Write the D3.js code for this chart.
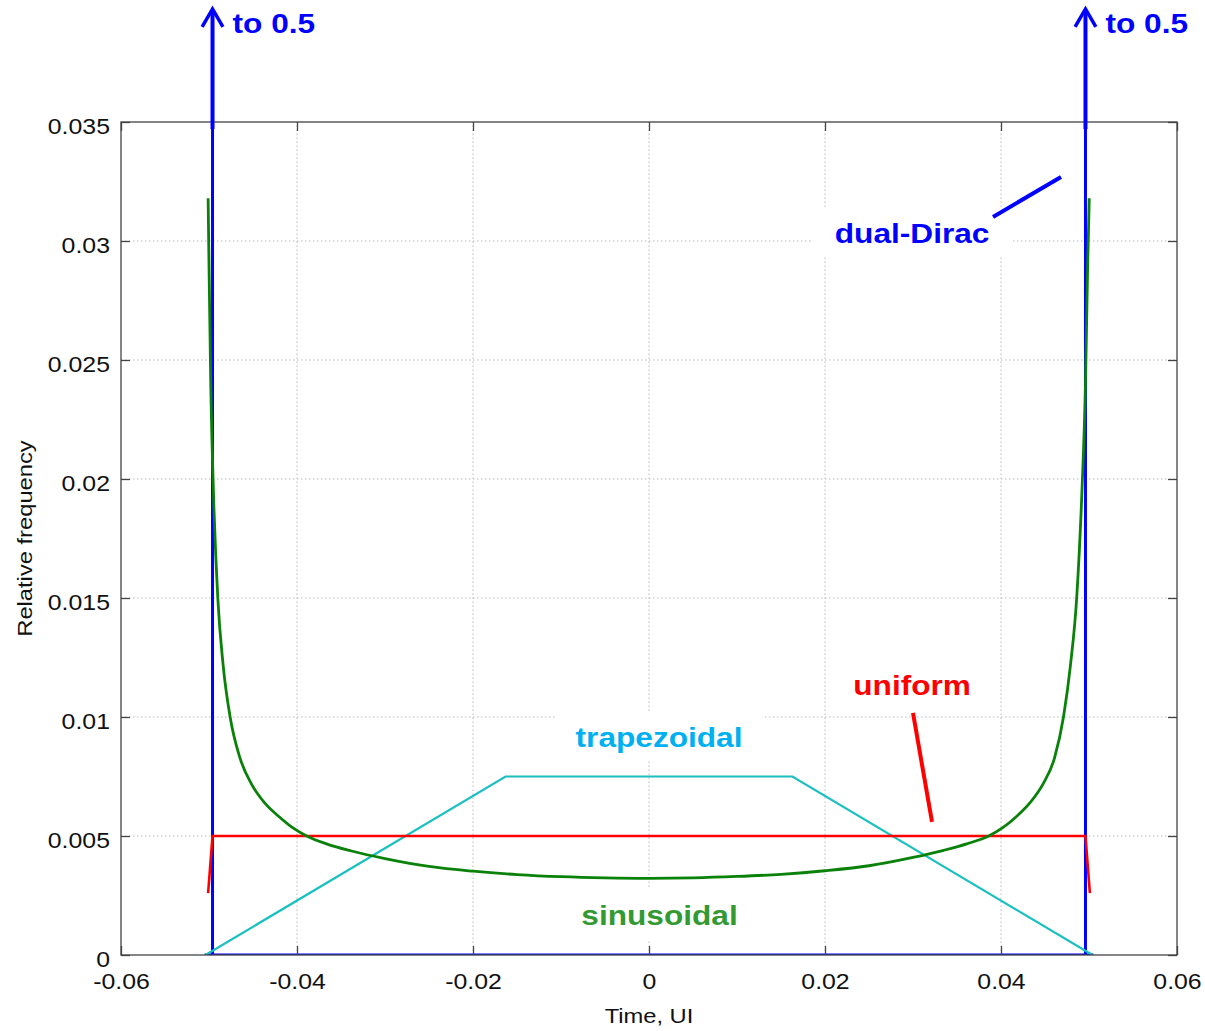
<!DOCTYPE html>
<html>
<head>
<meta charset="utf-8">
<script src="https://cdn.jsdelivr.net/npm/d3@7"></script>
<style>
    body { margin: 0; background: #fff; }
    text { font-family: "Liberation Sans", Arial, sans-serif; }
    .stretch { transform-box: fill-box; transform: scaleX(1.13); }
</style>
</head>
<body>
<div id="chart"></div>
<script>
// tick values and labels
const xTicks = [-0.06, -0.04, -0.02, 0, 0.02, 0.04, 0.06];
const xTickLabels = ["-0.06", "-0.04", "-0.02", "0", "0.02", "0.04", "0.06"];
const yTicks = [0, 0.005, 0.01, 0.015, 0.02, 0.025, 0.03, 0.035];
const yTickLabels = ["0", "0.005", "0.01", "0.015", "0.02", "0.025", "0.03", "0.035"];

// sinusoidal
const sinX = [-0.0501, -0.0500, -0.0498, -0.0495, -0.0490, -0.0484, -0.0476, -0.0465, -0.0452, -0.0437,
    -0.0420, -0.0405, -0.0389, -0.0365, -0.0338, -0.030, -0.025, -0.020, -0.015, -0.010,
    -0.005, 0, 0.005, 0.010, 0.015, 0.020, 0.025, 0.030, 0.0335, 0.0362,
    0.0386, 0.0402, 0.0417, 0.0433, 0.0448, 0.0461, 0.0471, 0.0479, 0.0486, 0.0492,
    0.0496, 0.04985, 0.05003];
const sinY = [0.0318, 0.0290, 0.0240, 0.0195, 0.0150, 0.0122, 0.0100, 0.0083, 0.0072, 0.0064,
    0.0058, 0.00535, 0.0050, 0.00465, 0.00437, 0.00405, 0.00372, 0.00352, 0.00338, 0.00329,
    0.00324, 0.00322, 0.00324, 0.00330, 0.00339, 0.00354, 0.00375, 0.00410, 0.00440, 0.00468,
    0.0050, 0.00535, 0.0058, 0.0064, 0.0072, 0.0083, 0.0100, 0.0122, 0.0150, 0.0195,
    0.0240, 0.0290, 0.0318];

// trapezoidal
const trapX = [-0.0504, -0.0163, 0.0163, 0.0504];
const trapY = [0, 0.0075, 0.0075, 0];

// uniform
const uniX = [-0.0501, -0.0496, 0.0496, 0.0501];
const uniY = [0.0026, 0.005, 0.005, 0.0026];

// dual-Dirac (spikes go to 0.5)
const diracX = [-0.0505, -0.0496, -0.0496, -0.0496, 0.0496, 0.0496, 0.0496, 0.0505];
const diracY = [0, 0, 0.5, 0, 0, 0.5, 0, 0];
const diracPeaks = [-0.0496, 0.0496];

const width = 1205, height = 1031;
const margin = {top: 122, right: 28, bottom: 76, left: 121};

const svg = d3.select("#chart").append("svg")
    .attr("width", width)
    .attr("height", height);

const x = d3.scaleLinear()
    .domain([-0.06, 0.06])
    .range([margin.left, width - margin.right]);
const y = d3.scaleLinear()
    .domain([0, 0.035])
    .range([height - margin.bottom, margin.top]);

svg.append("defs").append("clipPath")
    .attr("id", "plot-clip")
    .append("rect")
    .attr("x", x(-0.06))
    .attr("y", y(0.035))
    .attr("width", x(0.06) - x(-0.06))
    .attr("height", y(0) - y(0.035));

// Grid
const grid = svg.append("g")
    .attr("stroke", "#b8b8b8")
    .attr("stroke-width", 1)
    .attr("stroke-dasharray", "1.5,2.5");
grid.selectAll("line.vx")
    .data(xTicks.slice(1, -1))
    .enter()
    .append("line")
    .attr("x1", d => x(d)).attr("x2", d => x(d))
    .attr("y1", y(0)).attr("y2", y(0.035));
grid.selectAll("line.hy")
    .data(yTicks.slice(1, -1))
    .enter()
    .append("line")
    .attr("x1", x(-0.06)).attr("x2", x(0.06))
    .attr("y1", d => y(d)).attr("y2", d => y(d));

// Labels with white boxes (centre x, baseline y in data units)
const labelText = ["dual-Dirac", "uniform", "trapezoidal", "sinusoidal"];
const labelX = [0.0299, 0.0299, 0.00114, 0.0012];
const labelY = [0.02992, 0.01092, 0.00874, 0.00126];
const labelColor = ["#0000ff", "#ff0000", "#00b0f0", "#339933"];
const labelBoxW = [198, 160, 207, 198];

svg.selectAll("rect.label-box")
    .data(labelText)
    .enter()
    .append("rect")
    .attr("x", (d, i) => x(labelX[i]) - labelBoxW[i] / 2)
    .attr("y", (d, i) => y(labelY[i]) - 36)
    .attr("width", (d, i) => labelBoxW[i])
    .attr("height", 50)
    .attr("fill", "#fff");

// Lines
const line = d3.line().x(d => x(d[0])).y(d => y(d[1]));
const plot = svg.append("g").attr("clip-path", "url(#plot-clip)").attr("fill", "none");

plot.append("path")
    .datum(diracX.map((d, i) => [d, diracY[i]]))
    .attr("d", line)
    .attr("stroke", "#0000ff")
    .attr("stroke-width", 3);

plot.append("path")
    .datum(trapX.map((d, i) => [d, trapY[i]]))
    .attr("d", line)
    .attr("stroke", "#1ac0c0")
    .attr("stroke-width", 2.2);

plot.append("path")
    .datum(uniX.map((d, i) => [d, uniY[i]]))
    .attr("d", line)
    .attr("stroke", "#ff0000")
    .attr("stroke-width", 2.6);

plot.append("path")
    .datum(sinX.map((d, i) => [d, sinY[i]]))
    .attr("d", line.curve(d3.curveMonotoneX))
    .attr("stroke", "#0a820a")
    .attr("stroke-width", 2.8);

// Axes box and inside ticks
function styleAxis(g) {
    g.select(".domain").remove();
    g.selectAll(".tick line").attr("stroke", "#444").attr("stroke-width", 1.3);
    g.selectAll(".tick text")
        .attr("fill", "#111")
        .style("font-size", "22px")
        .attr("class", "stretch");
}

svg.append("g")
    .attr("transform", "translate(0," + y(0) + ")")
    .call(d3.axisBottom(x).tickValues(xTicks).tickFormat((d, i) => xTickLabels[i])
        .tickSizeInner(-9).tickSizeOuter(0).tickPadding(18))
    .call(styleAxis)
    .selectAll(".tick text").style("transform-origin", "center");

svg.append("g")
    .attr("transform", "translate(" + x(-0.06) + ",0)")
    .call(d3.axisLeft(y).tickValues(yTicks).tickFormat((d, i) => yTickLabels[i])
        .tickSizeInner(-9).tickSizeOuter(0).tickPadding(11))
    .call(styleAxis)
    .selectAll(".tick text").attr("dy", "0.5em").style("transform-origin", "right");

svg.append("g")
    .attr("transform", "translate(0," + y(0.035) + ")")
    .call(d3.axisTop(x).tickValues(xTicks).tickFormat("").tickSizeInner(-9).tickSizeOuter(0))
    .call(styleAxis);

svg.append("g")
    .attr("transform", "translate(" + x(0.06) + ",0)")
    .call(d3.axisRight(y).tickValues(yTicks).tickFormat("").tickSizeInner(-9).tickSizeOuter(0))
    .call(styleAxis);

svg.append("rect")
    .attr("x", x(-0.06))
    .attr("y", y(0.035))
    .attr("width", x(0.06) - x(-0.06))
    .attr("height", y(0) - y(0.035))
    .attr("fill", "none")
    .attr("stroke", "#444")
    .attr("stroke-width", 1.3);

// Axis titles
svg.append("text")
    .attr("class", "stretch")
    .style("transform-origin", "center")
    .attr("x", x(0))
    .attr("y", 1023)
    .attr("text-anchor", "middle")
    .style("font-size", "21px")
    .attr("fill", "#111")
    .text("Time, UI");

svg.append("g")
    .attr("transform", "translate(32," + ((y(0) + y(0.035)) / 2) + ") rotate(-90)")
    .append("text")
    .attr("class", "stretch")
    .style("transform-origin", "center")
    .attr("text-anchor", "middle")
    .style("font-size", "21px")
    .attr("fill", "#111")
    .text("Relative frequency");

// Label texts
svg.selectAll("text.curve-label")
    .data(labelText)
    .enter()
    .append("text")
    .attr("class", "stretch")
    .style("transform-origin", "center")
    .attr("x", (d, i) => x(labelX[i]))
    .attr("y", (d, i) => y(labelY[i]))
    .attr("text-anchor", "middle")
    .style("font-size", "28px")
    .style("font-weight", "bold")
    .attr("fill", (d, i) => labelColor[i])
    .text(d => d);

// Leader lines
const leaderX1 = [0.03909, 0.03000];
const leaderY1 = [0.03101, 0.01017];
const leaderX2 = [0.04682, 0.03216];
const leaderY2 = [0.03269, 0.00559];
const leaderColor = ["#0000ff", "#ff0000"];
svg.selectAll("line.leader")
    .data(leaderX1)
    .enter()
    .append("line")
    .attr("x1", (d, i) => x(leaderX1[i]))
    .attr("y1", (d, i) => y(leaderY1[i]))
    .attr("x2", (d, i) => x(leaderX2[i]))
    .attr("y2", (d, i) => y(leaderY2[i]))
    .attr("stroke", (d, i) => leaderColor[i])
    .attr("stroke-width", 4);

// "to 0.5" arrows above the axes
const arrows = svg.append("g").attr("fill", "none").attr("stroke", "#0000ff").attr("stroke-width", 4);
diracPeaks.forEach(function (p) {
    arrows.append("line")
        .attr("x1", x(p)).attr("x2", x(p))
        .attr("y1", y(0.0347)).attr("y2", y(0.0397));
    arrows.append("path")
        .attr("d", d3.line()([[x(p - 0.00118), y(0.0390)], [x(p), y(0.03975)], [x(p + 0.00118), y(0.0390)]]))
        .attr("stroke-width", 3.5);
    svg.append("text")
        .attr("class", "stretch")
        .style("transform-origin", "left")
        .attr("x", x(p) + 20)
        .attr("y", y(0.03874))
        .style("font-size", "28px")
        .style("font-weight", "bold")
        .attr("fill", "#0000ff")
        .text("to 0.5");
});
</script>
</body>
</html>
